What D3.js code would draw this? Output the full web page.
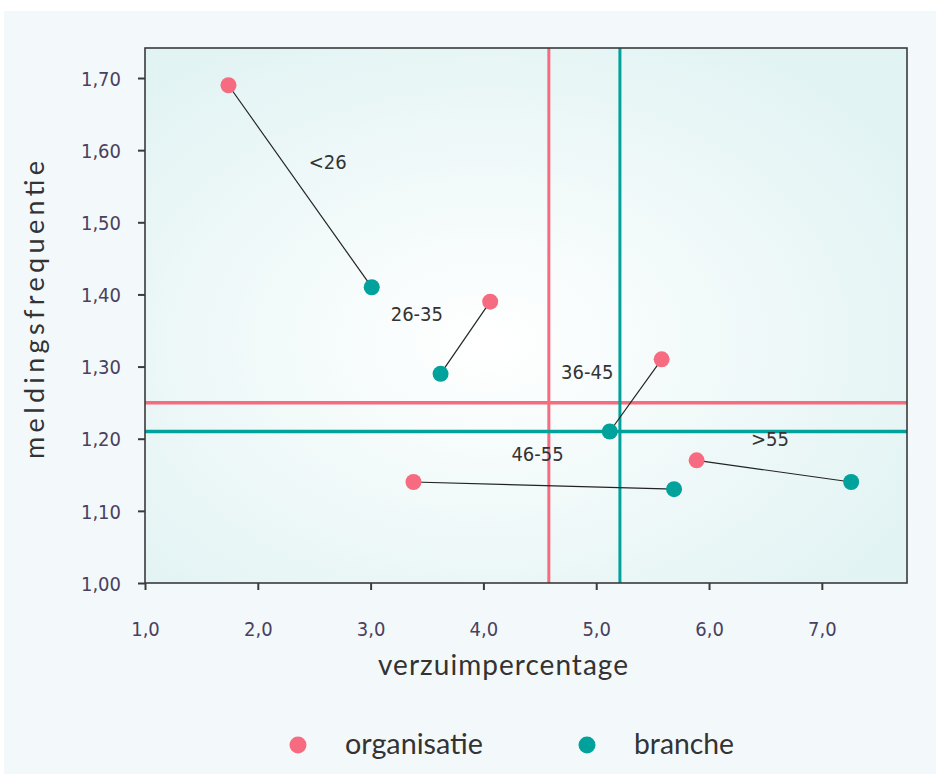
<!DOCTYPE html>
<html><head><meta charset="utf-8">
<script src="https://cdn.jsdelivr.net/npm/d3@7"></script>
<style>body{margin:0;background:#fff}svg{display:block}</style>
</head><body>
<svg id="c" width="936" height="774"></svg>
<script>
const groups = ["<26", "26-35", "36-45", "46-55", ">55"];
const orgX = [1.74, 4.06, 5.58, 3.38, 5.89];
const orgY = [1.69, 1.39, 1.31, 1.14, 1.17];
const brX = [3.01, 3.62, 5.12, 5.69, 7.26];
const brY = [1.41, 1.29, 1.21, 1.13, 1.14];
const labelX = [2.62, 3.41, 4.92, 4.48, 6.54];
const labelY = [1.574, 1.363, 1.283, 1.169, 1.19];
const refOrg = {x: 4.58, y: 1.25};
const refBr = {x: 5.21, y: 1.21};
const xTicks = [1, 2, 3, 4, 5, 6, 7];
const yTicks = [1.0, 1.1, 1.2, 1.3, 1.4, 1.5, 1.6, 1.7];
const seriesNames = ["organisatie", "branche"];
const colors = ["#f76b80", "#00a29b"];

const svg = d3.select("#c");
const W = 936, H = 774;
svg.append("rect").attr("x", 4).attr("y", 11).attr("width", W - 4).attr("height", H - 11).attr("fill", "#f3f9fb");

const m = {l: 145, r: 907, t: 48, b: 583};
const x = d3.scaleLinear().domain([1, 7.755]).range([m.l, m.r]);
const y = d3.scaleLinear().domain([1, 1.7416]).range([m.b, m.t]);

const defs = svg.append("defs");
const g = defs.append("radialGradient").attr("id", "bg").attr("cx", "0.45").attr("cy", "0.55").attr("r", "0.65");
g.append("stop").attr("offset", "0%").attr("stop-color", "#ffffff");
g.append("stop").attr("offset", "100%").attr("stop-color", "#e2f3f3");

svg.append("rect").attr("x", m.l).attr("y", m.t).attr("width", m.r - m.l).attr("height", m.b - m.t).attr("fill", "url(#bg)");

const refs = [refOrg, refBr];
refs.forEach((r, i) => {
  svg.append("line").attr("x1", x(r.x)).attr("x2", x(r.x)).attr("y1", m.t).attr("y2", m.b)
    .attr("stroke", colors[i]).attr("stroke-width", 3);
  svg.append("line").attr("x1", m.l).attr("x2", m.r).attr("y1", y(r.y)).attr("y2", y(r.y))
    .attr("stroke", colors[i]).attr("stroke-width", 3.5);
});

const data = groups.map((gname, i) => ({g: gname, ox: orgX[i], oy: orgY[i], bx: brX[i], by: brY[i], lx: labelX[i], ly: labelY[i]}));
svg.selectAll(".conn").data(data).join("line")
  .attr("x1", d => x(d.ox)).attr("y1", d => y(d.oy)).attr("x2", d => x(d.bx)).attr("y2", d => y(d.by))
  .attr("stroke", "#222").attr("stroke-width", 1.2);

svg.selectAll(".po").data(data).join("circle").attr("cx", d => x(d.ox)).attr("cy", d => y(d.oy)).attr("r", 8).attr("fill", colors[0]);
svg.selectAll(".pb").data(data).join("circle").attr("cx", d => x(d.bx)).attr("cy", d => y(d.by)).attr("r", 8).attr("fill", colors[1]);

svg.selectAll(".lbl").data(data).join("text")
  .attr("x", d => x(d.lx)).attr("y", d => y(d.ly)).attr("text-anchor", "middle")
  .attr("font-family", "DejaVu Sans Condensed, DejaVu Sans").attr("font-size", 20).attr("fill", "#333")
  .text(d => d.g);

svg.append("rect").attr("x", m.l).attr("y", m.t).attr("width", m.r - m.l).attr("height", m.b - m.t)
  .attr("fill", "none").attr("stroke", "#3a3a3a").attr("stroke-width", 1.6);

const fmt2 = d => d3.format(".2f")(d).replace(".", ",");
const fmt1 = d => d3.format(".1f")(d).replace(".", ",");

const xa = svg.append("g").attr("transform", `translate(0,${m.b})`)
  .call(d3.axisBottom(x).tickValues(xTicks).tickFormat(fmt1).tickSize(7).tickSizeOuter(0));
const ya = svg.append("g").attr("transform", `translate(${m.l},0)`)
  .call(d3.axisLeft(y).tickValues(yTicks).tickFormat(fmt2).tickSize(7).tickSizeOuter(0));
[xa, ya].forEach(a => {
  a.select(".domain").remove();
  a.selectAll(".tick line").attr("stroke", "#3a3a3a").attr("stroke-width", 2);
  a.selectAll("text").attr("font-family", "DejaVu Sans Condensed, DejaVu Sans").attr("font-size", 20).attr("fill", "#4a4060");
});
xa.selectAll("text").attr("y", 53).attr("dy", 0);
ya.selectAll("text").attr("x", -24).attr("dy", "0.36em");

const lblFont = "Lato, Open Sans";
svg.append("text").attr("x", 503).attr("y", 675).attr("text-anchor", "middle")
  .attr("font-family", lblFont).attr("font-size", 28).attr("fill", "#333")
  .attr("textLength", 250).attr("lengthAdjust", "spacing").text("verzuimpercentage");
svg.append("text").attr("transform", `translate(44,310) rotate(-90)`).attr("text-anchor", "middle")
  .attr("font-family", lblFont).attr("font-size", 27).attr("fill", "#333")
  .attr("textLength", 298).attr("lengthAdjust", "spacing").text("meldingsfrequentie");

const lg = svg.append("g");
const lx = [298, 587];
const lw = [138, 100];
seriesNames.forEach((s, i) => {
  lg.append("circle").attr("cx", lx[i]).attr("cy", 745).attr("r", 8.5).attr("fill", colors[i]);
  lg.append("text").attr("x", lx[i] + 47).attr("y", 754).attr("font-family", lblFont).attr("font-size", 28)
    .attr("fill", "#333").attr("textLength", lw[i]).attr("lengthAdjust", "spacingAndGlyphs").text(s);
});
</script>
</body></html>
